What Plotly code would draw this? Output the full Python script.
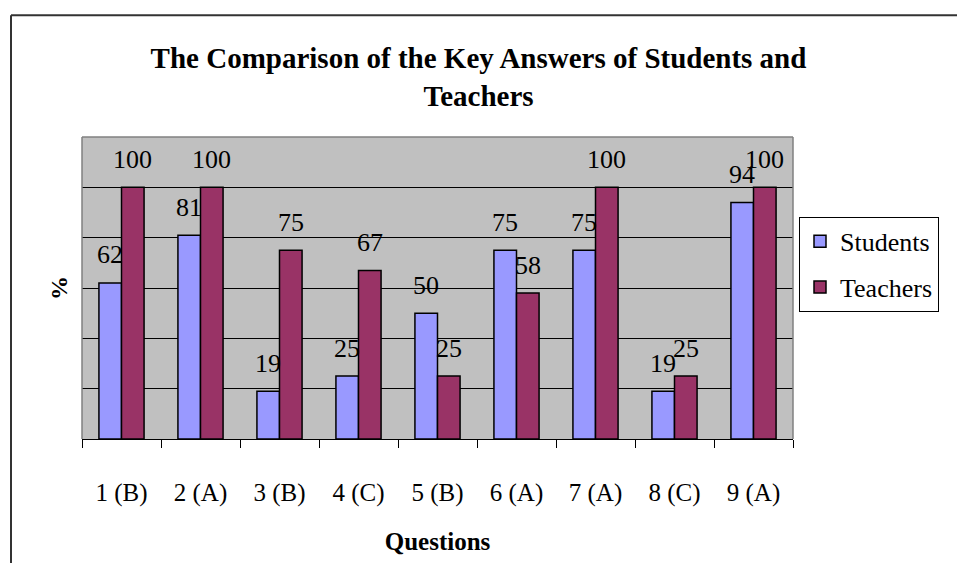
import plotly.graph_objects as go

categories = ["1 (B)", "2 (A)", "3 (B)", "4 (C)", "5 (B)", "6 (A)", "7 (A)", "8 (C)", "9 (A)"]
students = [62, 81, 19, 25, 50, 75, 75, 19, 94]
teachers = [100, 100, 75, 67, 25, 58, 100, 25, 100]

FONT = "Liberation Serif, Times New Roman, serif"
W, H = 957, 563
# plot area in page pixels
L, R, T, B = 82, 793, 137, 447

fig = go.Figure()
fig.add_trace(go.Bar(name="Students", x=categories, y=students,
                     marker=dict(color="#9999FF", line=dict(color="black", width=1.5)),
                     legendgroup="s"))
fig.add_trace(go.Bar(name="Teachers", x=categories, y=teachers,
                     marker=dict(color="#993366", line=dict(color="black", width=1.5)),
                     legendgroup="t"))

gap = 1.5 / 3.5
off = (1 - gap) / 4
annotations = []
for i, (s, t) in enumerate(zip(students, teachers)):
    for v, dx in ((s, -off), (t, off)):
        annotations.append(dict(x=i + dx, y=v, xref="x", yref="y", text=str(v),
                                showarrow=False, yanchor="middle", yshift=28,
                                font=dict(family=FONT, size=26, color="black")))

pw, ph = R - L, B - T
def px2x(px):
    return (px - L) / pw
def py2y(py):
    return (B - py) / ph

shapes = [
    dict(type="line", xref="paper", yref="paper", x0=0, x1=0, y0=0, y1=1, line=dict(color="#808080", width=1.5)),
    dict(type="line", xref="paper", yref="paper", x0=0, x1=1, y0=1, y1=1, line=dict(color="#808080", width=1.5)),
    dict(type="line", xref="paper", yref="paper", x0=1, x1=1, y0=0, y1=1, line=dict(color="#808080", width=1.5)),
    dict(type="line", xref="paper", yref="paper", x0=px2x(11), x1=px2x(11),
         y0=py2y(575), y1=py2y(12), line=dict(color="#333333", width=2)),
    dict(type="line", xref="paper", yref="paper", x0=px2x(11), x1=px2x(975),
         y0=py2y(12), y1=py2y(12), line=dict(color="#333333", width=2)),
]

fig.update_layout(
    width=W, height=H,
    margin=dict(l=L, r=W - R, t=T, b=H - B),
    paper_bgcolor="white", plot_bgcolor="#C0C0C0",
    barmode="group", bargap=gap, bargroupgap=0,
    font=dict(family=FONT, color="black"),
    title=dict(text="<b>The Comparison of the Key Answers of Students and<br>Teachers</b>",
               x=0.5, xref="container", xanchor="center",
               y=1 - 68 / H, yref="container", yanchor="middle",
               font=dict(family=FONT, size=29, color="black")),
    legend=dict(x=px2x(799), y=py2y(219), xanchor="left", yanchor="top",
                bgcolor="white", bordercolor="black", borderwidth=1,
                font=dict(family=FONT, size=26, color="black"),
                tracegroupgap=9, traceorder="grouped"),
    annotations=annotations,
    shapes=shapes,
    xaxis=dict(type="category", showline=True, linecolor="black", linewidth=1,
               ticks="outside", tickson="boundaries", ticklen=8, tickcolor="black",
               tickfont=dict(family=FONT, size=25, color="black"),
               ticklabelstandoff=31, showgrid=False,
               title=dict(text="<b>Questions</b>", font=dict(family=FONT, size=25, color="black"),
                          standoff=26)),
    yaxis=dict(range=[0, 120], dtick=20, showgrid=True, gridcolor="black", gridwidth=1,
               zeroline=False, showticklabels=False, ticks="", showline=False,
               title=dict(text="<b>%</b>", font=dict(family=FONT, size=24, color="black"),
                          standoff=6)),
)

fig.write_html("out.html", config={"displayModeBar": False},
               post_script="document.body.style.margin='0';")
